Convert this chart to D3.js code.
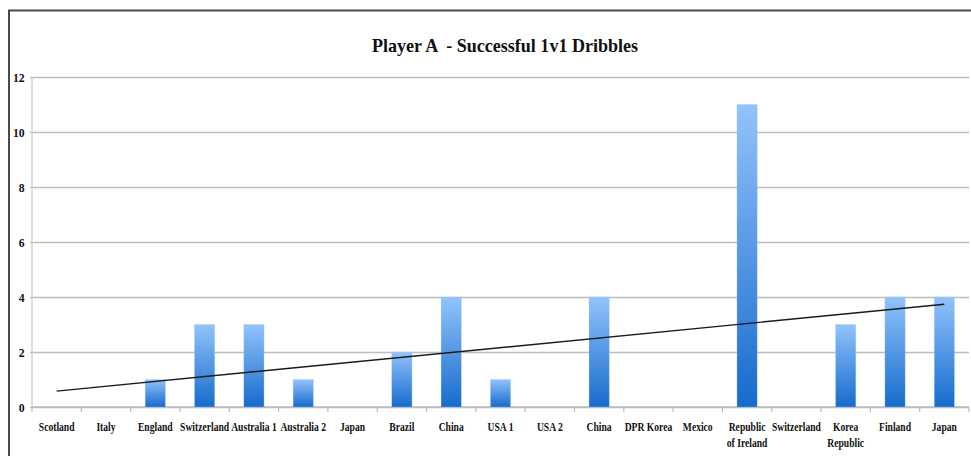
<!DOCTYPE html>
<html>
<head>
<meta charset="utf-8">
<script src="https://cdn.jsdelivr.net/npm/d3@7"></script>
<style>
  html, body { margin: 0; padding: 0; background: #fff; }
  svg { display: block; }
  text { font-family: "Liberation Serif", "Times New Roman", serif; font-weight: bold; fill: #111; white-space: pre; }
</style>
</head>
<body>
<svg id="chart" width="971" height="456"></svg>
<script>
// Opponents faced, in match order (line breaks marked with \n)
const opponents = [
  "Scotland", "Italy", "England", "Switzerland", "Australia 1", "Australia 2",
  "Japan", "Brazil", "China", "USA 1", "USA 2", "China", "DPR Korea", "Mexico",
  "Republic\nof Ireland", "Switzerland", "Korea\nRepublic", "Finland", "Japan"
];
// Successful 1v1 dribbles per match
const dribbles = [0, 0, 1, 3, 3, 1, 0, 2, 4, 1, 0, 4, 0, 0, 11, 0, 3, 4, 4];
const yTicks = [0, 2, 4, 6, 8, 10, 12];
const chartTitle = "Player A  - Successful 1v1 Dribbles";

const svg = d3.select("#chart");
const W = 971, H = 456;
const plot = { left: 32, right: 969, top: 77, bottom: 407 };

// Outer frame
svg.append("rect")
  .attr("x", 9).attr("y", 10.5)
  .attr("width", W + 20).attr("height", H + 20)
  .attr("fill", "none").attr("stroke", "#4a4a4a").attr("stroke-width", 2);

// Title
svg.append("text")
  .attr("x", 505).attr("y", 52)
  .attr("text-anchor", "middle")
  .attr("font-size", 19.5)
  .attr("textLength", 266).attr("lengthAdjust", "spacingAndGlyphs")
  .text(chartTitle);

const idx = d3.range(opponents.length);
const x = d3.scaleBand().domain(idx).range([plot.left, plot.right]).paddingInner(0.59).paddingOuter(0.295);
const xStep = d3.scaleBand().domain(idx).range([plot.left, plot.right]);
const y = d3.scaleLinear().domain([0, 12]).range([plot.bottom, plot.top]);

// Gradient for bars
const defs = svg.append("defs");
const grad = defs.append("linearGradient").attr("id", "barGrad")
  .attr("x1", 0).attr("y1", 0).attr("x2", 0).attr("y2", 1);
grad.append("stop").attr("offset", "0%").attr("stop-color", "#92c3fb");
grad.append("stop").attr("offset", "100%").attr("stop-color", "#166bcd");

// Gridlines
const yAxis = d3.axisLeft(y).tickValues(yTicks).tickSize(-(plot.right - plot.left + 2)).tickPadding(6);
const gy = svg.append("g").attr("transform", `translate(${plot.left - 2},0)`).call(yAxis);
gy.select(".domain").remove();
gy.selectAll(".tick line").attr("stroke", "#bdbdbd").attr("stroke-width", 1.6);
gy.selectAll(".tick text").attr("font-size", 13).attr("fill", "#111")
  .attr("font-family", "Liberation Serif, serif").attr("font-weight", "bold")
  .attr("transform", "scale(0.9,1)");

// Vertical axis line
svg.append("line")
  .attr("x1", plot.left).attr("x2", plot.left)
  .attr("y1", plot.top).attr("y2", plot.bottom)
  .attr("stroke", "#cfcfcf").attr("stroke-width", 1.4);

// Category axis with ticks at band boundaries
const xAxisLine = svg.append("g");
xAxisLine.append("line")
  .attr("x1", plot.left).attr("x2", plot.right)
  .attr("y1", plot.bottom).attr("y2", plot.bottom)
  .attr("stroke", "#bdbdbd").attr("stroke-width", 1.6);
xAxisLine.selectAll("line.tk")
  .data(idx.concat([opponents.length]))
  .join("line").attr("class", "tk")
  .attr("x1", d => d < opponents.length ? xStep(d) : plot.right)
  .attr("x2", d => d < opponents.length ? xStep(d) : plot.right)
  .attr("y1", plot.bottom).attr("y2", plot.bottom + 5)
  .attr("stroke", "#bdbdbd").attr("stroke-width", 1.2);

// Bars
svg.append("g").selectAll("rect")
  .data(dribbles)
  .join("rect")
  .attr("x", (d, i) => x(i))
  .attr("width", x.bandwidth())
  .attr("y", d => y(d))
  .attr("height", d => y(0) - y(d))
  .attr("fill", "url(#barGrad)")
  .attr("stroke", "#a9cdf5").attr("stroke-width", 0.6).attr("stroke-opacity", 0.6);

// Category labels (condensed)
const labels = svg.append("g").selectAll("text")
  .data(opponents)
  .join("text")
  .attr("text-anchor", "middle")
  .attr("font-size", 12)
  .attr("transform", (d, i) => `translate(${xStep(i) + xStep.bandwidth() / 2},431) scale(0.8,1)`);
labels.selectAll("tspan")
  .data(d => d.split("\n"))
  .join("tspan")
  .attr("x", 0)
  .attr("dy", (d, j) => j === 0 ? 0 : 16)
  .text(d => d);

// Linear trend line (least squares over match number)
const n = dribbles.length;
const xs = idx.map(i => i + 1);
const mx = d3.mean(xs), my = d3.mean(dribbles);
const slope = d3.sum(xs, (v, i) => (v - mx) * (dribbles[i] - my)) / d3.sum(xs, v => (v - mx) ** 2);
const intercept = my - slope * mx;
const trend = [1, n].map(v => [xStep(v - 1) + xStep.bandwidth() / 2, y(intercept + slope * v)]);
svg.append("path")
  .attr("d", d3.line()(trend))
  .attr("fill", "none").attr("stroke", "#1a1a1a").attr("stroke-width", 1.4);
</script>
</body>
</html>
